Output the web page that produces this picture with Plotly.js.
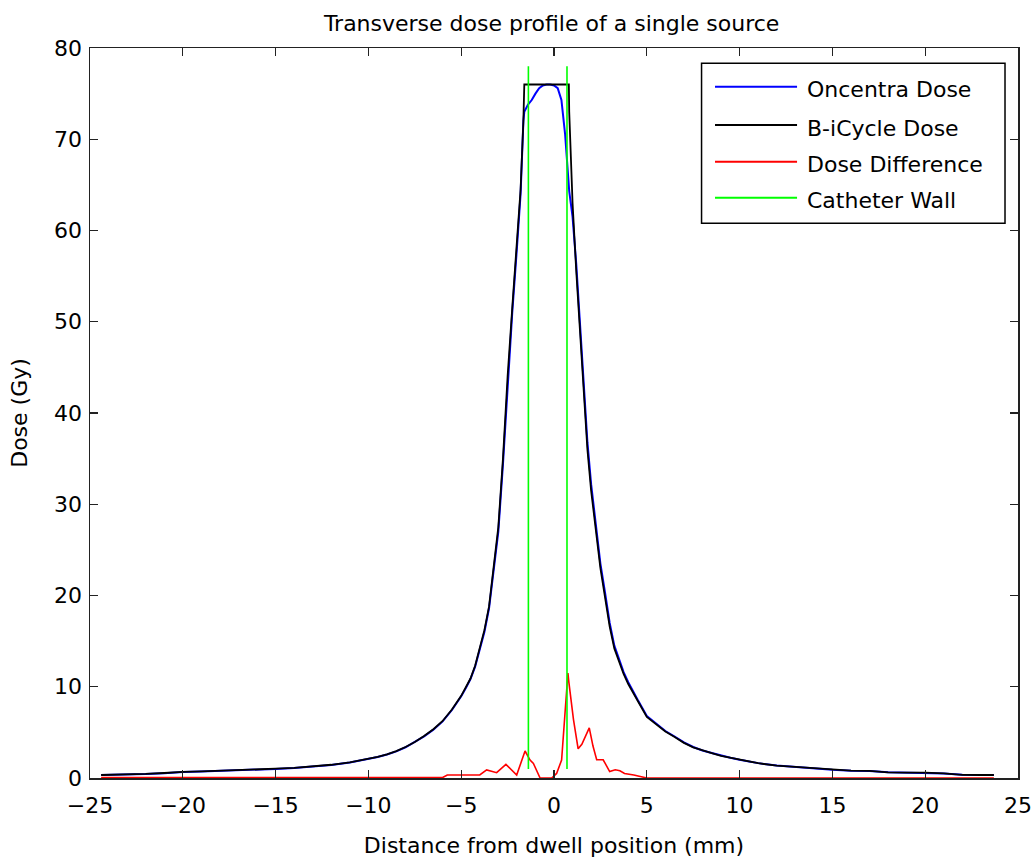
<!DOCTYPE html>
<html>
<head>
<meta charset="utf-8">
<script src="https://cdn.plot.ly/plotly-3.0.1.min.js"></script>
<style>
html,body{margin:0;padding:0;background:#fff;}
#chart{width:1033px;height:858px;}
</style>
</head>
<body>
<div id="chart"></div>
<script>
// Distance from dwell position (mm)
const distance = [-24.4,-23,-22,-21,-20,-19,-18,-17,-16,-15,-14,-13,-12,-11,-10,-9.5,-9,-8.5,-8,-7.5,-7,-6.5,-6,-5.5,-5,-4.75,-4.5,-4.25,-4,-3.75,-3.5,-3.25,-3,-2.75,-2.5,-2.25,-2,-1.8,-1.65,-1.6,-1.4,-1.2,-1,-0.8,-0.6,-0.4,-0.2,0,0.2,0.4,0.6,0.8,0.82,1,1.2,1.4,1.6,1.8,2,2.25,2.5,2.75,3,3.25,3.5,3.75,4,4.25,4.5,5,5.5,6,6.5,7,7.5,8,8.5,9,9.5,10,11,12,13,14,15,16,17,18,19,20,21,22,23,23.7];
// Oncentra dose (Gy)
const oncentraDose = [0.33,0.36,0.44,0.53,0.66,0.7,0.76,0.83,0.9,1.0,1.1,1.25,1.43,1.7,2.05,2.3,2.57,2.92,3.37,3.92,4.56,5.3,6.2,7.45,8.95,9.85,10.85,12.2,14.1,16.0,18.6,22.6,27.0,34.4,43.3,51.0,58.0,64.0,72.0,73.0,73.8,74.3,75.0,75.6,75.9,76.0,76.0,75.9,75.6,74.3,70.5,64.8,64.3,61.5,56.3,49.8,43.8,36.8,32.2,28.0,23.5,20.3,17.0,14.5,13.0,11.6,10.5,9.5,8.6,6.8,5.95,5.15,4.55,3.9,3.4,3.02,2.74,2.44,2.22,2.0,1.63,1.36,1.2,1.03,0.9,0.8,0.78,0.63,0.6,0.6,0.5,0.35,0.33,0.33];
// B-iCycle dose (Gy)
const bicycleDose = [0.33,0.36,0.45,0.55,0.68,0.72,0.78,0.85,0.92,1.02,1.12,1.28,1.45,1.72,2.08,2.32,2.6,2.95,3.4,3.95,4.6,5.35,6.25,7.5,9.0,9.9,10.9,12.3,14.3,16.2,18.8,23.0,27.5,35.0,44.0,51.5,58.5,64.5,72.0,76,76,76,76,76,76,76,76,76,76,76,76,76,73.0,63.0,55.5,49.0,43.0,36.0,31.5,27.5,23.0,19.8,16.6,14.2,12.8,11.4,10.3,9.35,8.5,6.7,5.9,5.1,4.5,3.85,3.35,3.0,2.72,2.42,2.2,1.98,1.62,1.35,1.2,1.02,0.9,0.8,0.78,0.62,0.6,0.6,0.5,0.35,0.33,0.33];
// Dose difference (Gy)
const diffDistance = [-24.4,-6.0,-5.75,-4.0,-3.63,-3.3,-3.09,-2.59,-2.01,-1.56,-1.29,-1.11,-0.75,-0.12,0.14,0.41,0.5,0.6,0.75,0.8,0.95,1.05,1.3,1.5,1.9,2.1,2.3,2.65,3.0,3.3,3.55,3.8,4.3,5.0,23.7];
const doseDifference = [0.05,0.05,0.33,0.33,0.88,0.7,0.58,1.5,0.33,2.96,1.97,1.6,0,0,0.5,1.97,4.5,7.3,11.5,10.5,8.2,6.4,3.2,3.7,5.5,3.5,2.0,2.0,0.7,0.9,0.8,0.5,0.33,0.0,0.0];
// Catheter wall positions (mm) and extent (Gy)
const catheterWallX = [-1.38, 0.70];
const catheterWallY = [1, 78];

const seriesNames = ["Oncentra Dose","B-iCycle Dose","Dose Difference","Catheter Wall"];
const seriesColors = ["#0000ff","#000000","#ff0000","#00ff00"];

const wallX = [], wallY = [];
catheterWallX.forEach((w,i)=>{ if(i>0){wallX.push(null);wallY.push(null);} wallX.push(w,w); wallY.push(catheterWallY[0],catheterWallY[1]); });

const FONT = "DejaVu Sans";
const traces = [
  {x:distance,y:oncentraDose,type:"scatter",mode:"lines",name:seriesNames[0],line:{color:seriesColors[0],width:2},showlegend:false},
  {x:distance,y:bicycleDose,type:"scatter",mode:"lines",name:seriesNames[1],line:{color:seriesColors[1],width:1.8},showlegend:false},
  {x:diffDistance,y:doseDifference,type:"scatter",mode:"lines",name:seriesNames[2],line:{color:seriesColors[2],width:1.6},showlegend:false},
  {x:wallX,y:wallY,type:"scatter",mode:"lines",name:seriesNames[3],line:{color:seriesColors[3],width:1.6},showlegend:false,connectgaps:false}
];

// custom MATLAB-style legend (paper coordinates)
const L = {x0:0.659,x1:0.986,y0:0.760,y1:0.979,lineX0:0.6735,lineX1:0.7619,textX:0.7705,rows:[0.947,0.8945,0.8442,0.795]};
const shapes = [{type:"rect",xref:"paper",yref:"paper",x0:L.x0,x1:L.x1,y0:L.y0,y1:L.y1,line:{color:"#000",width:1.5},fillcolor:"#fff",layer:"above"}];
const annotations = [];
seriesNames.forEach((n,i)=>{
  shapes.push({type:"line",xref:"paper",yref:"paper",x0:L.lineX0,x1:L.lineX1,y0:L.rows[i],y1:L.rows[i],line:{color:seriesColors[i],width:2},layer:"above"});
  annotations.push({xref:"paper",yref:"paper",x:L.textX,y:L.rows[i],yshift:-3,xanchor:"left",yanchor:"middle",text:n,showarrow:false,font:{family:FONT,size:22,color:"#000"}});
});

const axisCommon = {showline:true,linecolor:"#222",linewidth:1.5,mirror:"ticks",ticks:"inside",ticklen:8,tickwidth:1.2,tickcolor:"#222",showgrid:false,zeroline:false,tickfont:{family:FONT,size:22,color:"#000"}};
const layout = {
  width:1033,height:858,
  paper_bgcolor:"#fff",plot_bgcolor:"#fff",
  margin:{l:90,r:15,t:48,b:80,pad:0},
  title:{text:"Transverse dose profile of a single source",font:{family:FONT,size:22,color:"#000"},x:0.534,xanchor:"center",y:0.973,yanchor:"middle"},
  xaxis:Object.assign({},axisCommon,{range:[-25,25],dtick:5,tick0:0,ticklabelstandoff:7,title:{text:"Distance from dwell position (mm)",font:{family:FONT,size:22,color:"#000"},standoff:20}}),
  yaxis:Object.assign({},axisCommon,{range:[0,80],dtick:10,tick0:0,ticklabelstandoff:2,title:{text:"Dose (Gy)",font:{family:FONT,size:22,color:"#000"},standoff:20}}),
  shapes:shapes,annotations:annotations,showlegend:false
};
Plotly.newPlot("chart",traces,layout,{staticPlot:true,displayModeBar:false});
</script>
</body>
</html>
